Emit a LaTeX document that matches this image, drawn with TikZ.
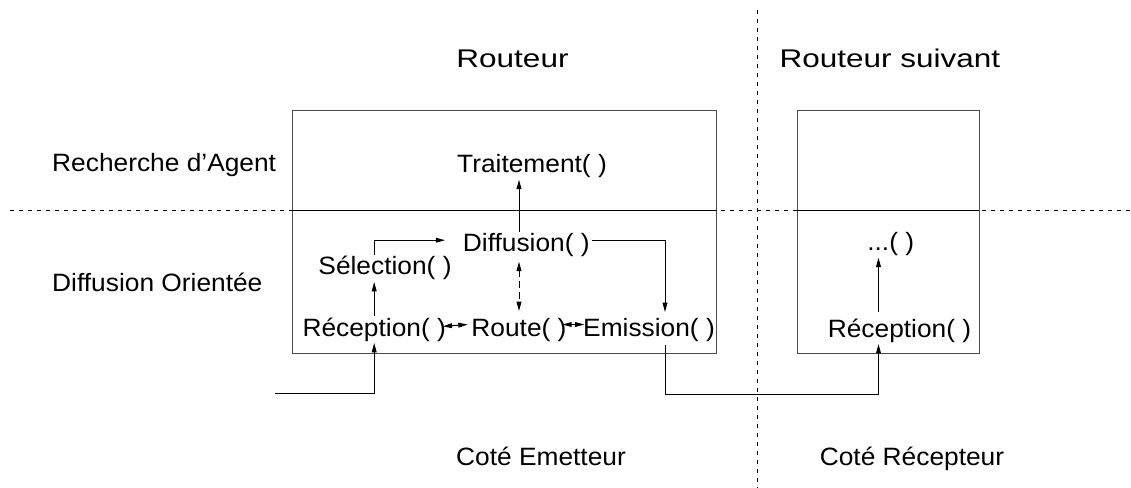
\documentclass[tikz,border=0pt]{standalone}
\usepackage{fontspec}
\setmainfont{Liberation Sans}[FakeStretch=1.05]
\newfontfamily\titlefont{Liberation Sans}[FakeStretch=1.23]
\usetikzlibrary{arrows.meta,calc}
\tikzset{every picture/.style={line width=0.75pt}}

\begin{document}
\begin{tikzpicture}[x=0.75pt,y=0.75pt,yscale=-1,xscale=1,
  lbl/.style={anchor=base,inner sep=1pt,font=\fontsize{18.8}{21}\selectfont},
  ttl/.style={anchor=base,inner sep=1pt,font=\titlefont\fontsize{19.2}{22}\selectfont},
  sepline/.style={dash pattern={on 3pt off 3.75pt}},
  framebox/.style={draw=black!70,line width=1.1pt},
  arr/.style={-{Triangle[length=7pt,width=3.6pt]}},
  darr/.style={{Triangle[length=7pt,width=3.6pt]}-{Triangle[length=7pt,width=3.6pt]},dash pattern={on 5pt off 3pt}}]
\useasboundingbox (0,0) rectangle (1131,488);

%Shape: Rectangle [routeur]
\draw [framebox] (292.7,110.7) rectangle (716.7,353.3);
%Shape: Rectangle [routeur suivant]
\draw [framebox] (797.3,110.7) rectangle (979.3,353.3);
%Straight Lines [separations]
\draw [sepline] (10,211) -- (1131,211);
\draw [sepline] (757.3,10) -- (757.3,488);
\draw (292.7,211) -- (716.7,211);
\draw (797.3,211) -- (979.3,211);

% Text Node
\node [ttl] (routeur) at (512.5,67.3) {Routeur};
% Text Node
\node [ttl] (suivant) at (889.8,67.3) {Routeur suivant};
% Text Node
\node [lbl,anchor=base west] (recherche) at (50.4,171.7) {Recherche d'Agent};
% Text Node
\node [lbl,anchor=base west] (orientee) at (50.4,291.7) {Diffusion Orientée};
% Text Node
\node [lbl] (traitement) at (532,172.7) {Traitement( )};
% Text Node
\node [lbl] (diffusion) at (526.3,251.7) {Diffusion( )};
% Text Node
\node [lbl] (selection) at (385,275) {Sélection( )};
% Text Node
\node [lbl] (reception) at (374.2,336) {Réception( )};
% Text Node
\node [lbl] (route) at (519,336) {Route( )};
% Text Node
\node [lbl] (emission) at (649,336) {Emission( )};
% Text Node
\node [lbl] (dots) at (890.7,250.7) {...( )};
% Text Node
\node [lbl] (reception2) at (899.5,337) {Réception( )};
% Text Node
\node [lbl] (emetteur) at (541,465) {Coté Emetteur};
% Text Node
\node [lbl] (recepteur) at (912,465) {Coté Récepteur};

%Connectors
\coordinate (input) at (275,393.3);
\draw [arr] (input) -| (reception.south);
\draw [arr] (reception.north) -- (reception.north |- selection.south);
\draw [arr] (reception.north |- selection.north) |- ($(diffusion.west)+(-16,-5)$);
\draw [arr] ($(diffusion.east)+(0,-5)$) -| ($(emission.north)+(16,-4)$);
\draw [arr] (diffusion.north -| route.north) -- (traitement.south -| route.north);
\draw [darr] ($(diffusion.south -| route.north)+(0,3)$) -- ($(route.north)+(0,-5)$);
\draw [darr] ($(reception.east)+(-5,-3)$) -- ($(route.west)+(-2,-5)$);
\draw [darr] ($(route.east)+(-6,-5)$) -- ($(emission.west)+(3,-5)$);
\draw [arr] ($(emission.south)+(16,2)$) -- ++(0,49) -| ($(reception2.south)+(-21,0)$);
\draw [arr] ($(reception2.north)+(-21,-5)$) -- ($(reception2.north |- dots.south)+(-21,0)$);

\end{tikzpicture}
\end{document}
